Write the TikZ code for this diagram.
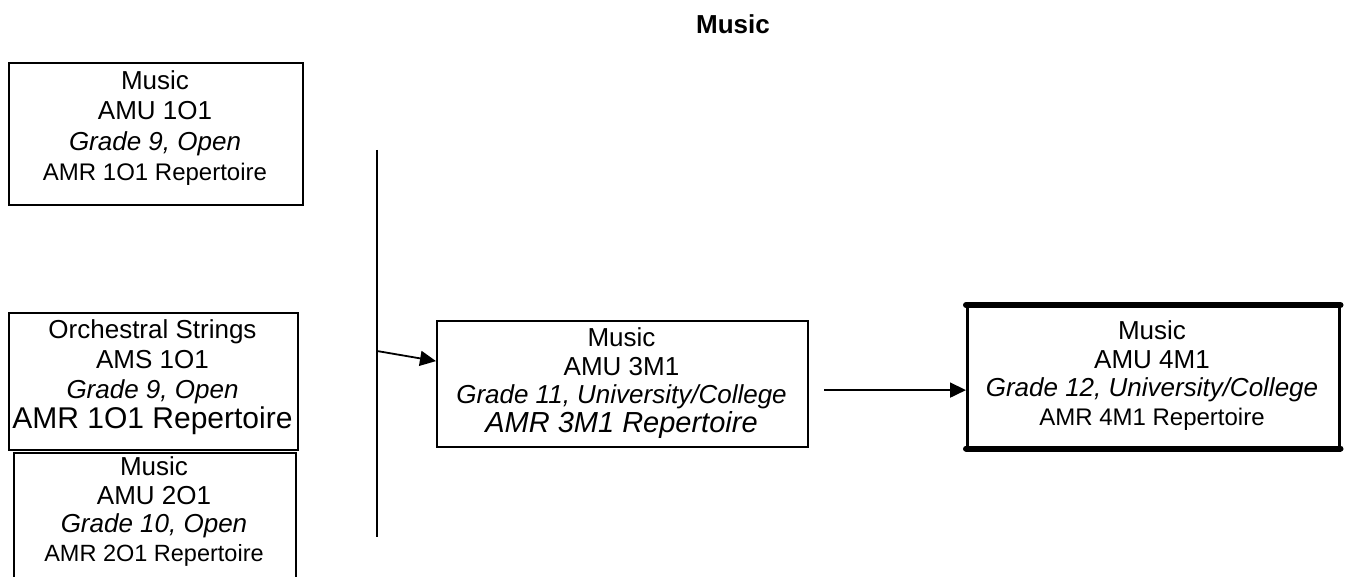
\documentclass[tikz,border=0pt]{standalone}
\usepackage{fontspec}
\setmainfont{Liberation Sans}
\usetikzlibrary{arrows.meta}
\begin{document}
\begin{tikzpicture}[x=1pt,y=-1pt,
  box/.style={draw, line width=2.2pt, anchor=north west, inner sep=0pt},
  txt/.style={align=center, inner sep=0pt, anchor=north},
  conn/.style={line width=1.8pt, -{Triangle[length=16pt,width=15pt]}},
]
\useasboundingbox (0,0) rectangle (1345,577);
\clip (0,0) rectangle (1345,577);

\node[font=\bfseries\fontsize{26}{30}\selectfont, inner sep=0pt] (title) at (733,24) {Music};

% box 1
\node[box, minimum width=294pt, minimum height=142pt] (b1) at (8,62) {};
\node[txt, font=\fontsize{26}{30.5}\selectfont] (t1) at (155,70) {Music\\AMU 1O1\\\textit{Grade 9, Open}\\{\fontsize{24}{30.5}\selectfont AMR 1O1 Repertoire}};

% box 2
\node[box, minimum width=289pt, minimum height=137pt] (b2) at (8,312) {};
\node[txt, font=\fontsize{26}{30}\selectfont] (t2) at (152.5,319) {Orchestral Strings\\AMS 1O1\\\textit{Grade 9, Open}\\{\fontsize{30}{30}\selectfont AMR 1O1 Repertoire}};

% box 3 (runs off the bottom)
\node[box, minimum width=282pt, minimum height=160pt] (b3) at (13,452) {};
\node[txt, font=\fontsize{26}{28.5}\selectfont] (t3) at (154,456.5) {Music\\AMU 2O1\\\textit{Grade 10, Open}\\{\fontsize{23.5}{28.5}\selectfont AMR 2O1 Repertoire}};

% box 4
\node[box, minimum width=371pt, minimum height=126pt] (b4) at (436,320) {};
\node[txt, font=\fontsize{26}{28.5}\selectfont] (t4) at (621.5,327.5) {Music\\AMU 3M1\\\textit{Grade 11, University/College}\\{\fontsize{29}{28.5}\selectfont\itshape AMR 3M1 Repertoire}};

% box 5
\node[box, line width=2.5pt, line join=round, minimum width=372pt, minimum height=141pt] (b5) at (966,305) {};
\draw[line width=6pt, line cap=round] (b5.north west) -- (b5.north east);
\draw[line width=6pt, line cap=round] (b5.south west) -- (b5.south east);
\node[txt, font=\fontsize{26}{28.5}\selectfont] (t5) at (1152,320.5) {Music\\AMU 4M1\\\textit{Grade 12, University/College}\\{\fontsize{24}{28.5}\selectfont AMR 4M1 Repertoire}};

% vertical bar and arrows
\coordinate (vtop) at (377,150);
\coordinate (vbot) at (377,537);
\coordinate (vmid) at (377,351);
\draw[line width=1.8pt] (vtop) -- (vbot);
\draw[conn] (vmid) -- ([yshift=23pt]b4.west);
\draw[conn] ([xshift=15pt,yshift=-6pt]b4.east) -- ([yshift=-6pt]b4.east -| b5.west);
\end{tikzpicture}
\end{document}
